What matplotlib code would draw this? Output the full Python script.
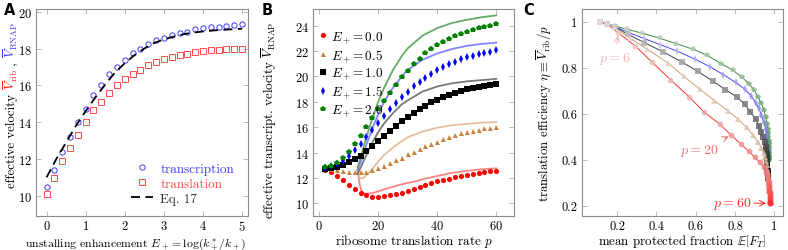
import numpy as np
import matplotlib
matplotlib.use("Agg")
import matplotlib.pyplot as plt

plt.rcParams['font.family'] = 'serif'
plt.rcParams['font.serif'] = ['cmr10']
plt.rcParams['mathtext.fontset'] = 'cm'
plt.rcParams['axes.formatter.use_mathtext'] = True
plt.rcParams['font.size'] = 9

# ---------------- panel A data ----------------
E_vals = [0.0, 0.2, 0.4, 0.6, 0.8, 1.0, 1.2, 1.4, 1.6, 1.8, 2.0, 2.2, 2.4,
          2.6, 2.8, 3.0, 3.2, 3.4, 3.6, 3.8, 4.0, 4.2, 4.4, 4.6, 4.8, 5.0]
v_transcription = [10.5, 11.4, 12.4, 13.2, 14.0, 14.7, 15.5, 16.0, 16.6, 17.0,
                   17.4, 17.75, 17.95, 18.25, 18.45, 18.6, 18.75, 18.85, 18.9,
                   19.05, 19.1, 19.15, 19.15, 19.25, 19.3, 19.35]
v_translation = [10.1, 10.95, 11.9, 12.6, 13.3, 14.0, 14.65, 15.1, 15.6, 16.0,
                 16.35, 16.6, 16.85, 17.1, 17.25, 17.45, 17.55, 17.65, 17.7,
                 17.8, 17.85, 17.9, 17.9, 17.95, 17.97, 18.0]
E_eq = [0.0, 0.25, 0.5, 0.75, 1.0, 1.25, 1.5, 1.75, 2.0, 2.25, 2.5, 2.75, 3.0,
        3.25, 3.5, 3.75, 4.0, 4.25, 4.5, 4.75, 5.0]
v_eq17 = [11.0, 12.0, 12.9, 13.8, 14.6, 15.35, 16.05, 16.7, 17.2, 17.65, 18.0,
          18.3, 18.5, 18.65, 18.78, 18.87, 18.93, 18.98, 19.02, 19.05, 19.08]

# ---------------- panel B data ----------------
p_vals = [2, 4, 6, 8, 10, 12, 14, 16, 18, 20, 22, 24, 26, 28, 30, 32, 34, 36,
          38, 40, 42, 44, 46, 48, 50, 52, 54, 56, 58, 60]
e_labels = ['0.0', '0.5', '1.0', '1.5', '2.0']
vr_e00 = [12.6, 12.5, 12.15, 11.85, 11.45, 11.1, 10.8, 10.62, 10.52, 10.5,
          10.55, 10.62, 10.72, 10.85, 11.0, 11.15, 11.3, 11.45, 11.6, 11.75,
          11.85, 11.95, 12.05, 12.15, 12.25, 12.3, 12.38, 12.45, 12.52, 12.58]
vr_e05 = [12.75, 12.7, 12.6, 12.55, 12.5, 12.45, 12.45, 12.5, 12.6, 12.75,
          12.95, 13.15, 13.4, 13.6, 13.85, 14.05, 14.3, 14.5, 14.7, 14.85,
          15.05, 15.2, 15.35, 15.5, 15.6, 15.7, 15.8, 15.9, 15.95, 16.0]
vr_e10 = [12.7, 12.75, 12.85, 13.05, 13.25, 13.5, 13.75, 14.15, 14.5, 14.9,
          15.3, 15.7, 16.1, 16.45, 16.8, 17.15, 17.45, 17.7, 17.95, 18.15,
          18.35, 18.55, 18.7, 18.85, 18.97, 19.07, 19.15, 19.23, 19.3, 19.4]
vr_e15 = [12.8, 12.9, 13.1, 13.3, 13.7, 14.2, 14.7, 15.2, 15.8, 16.35, 16.9,
          17.4, 17.9, 18.4, 18.8, 19.2, 19.55, 19.9, 20.2, 20.5, 20.75, 20.95,
          21.15, 21.35, 21.5, 21.6, 21.75, 21.85, 21.95, 22.05]
vr_e20 = [12.85, 12.95, 13.2, 13.55, 14.05, 14.65, 15.3, 16.0, 16.7, 17.4,
          18.05, 18.7, 19.35, 19.95, 20.45, 20.95, 21.4, 21.8, 22.15, 22.45,
          22.7, 22.95, 23.15, 23.35, 23.5, 23.65, 23.8, 23.9, 24.0, 24.1]

# theory curves (panel B)
pl_e00 = [13, 13.5, 14, 14.5, 15, 16, 18, 20, 22, 25, 28, 30, 33, 36, 40, 45, 50, 55, 60]
vl_e00 = [12.6, 11.8, 11.2, 10.9, 10.8, 10.75, 10.8, 10.95, 11.1, 11.3, 11.5,
          11.6, 11.75, 11.95, 12.15, 12.4, 12.55, 12.68, 12.75]
pl_e05 = [13, 13.5, 14, 15, 16, 18, 20, 22, 25, 28, 30, 35, 40, 45, 50, 55, 60]
vl_e05 = [12.6, 12.1, 11.95, 12.0, 12.2, 12.7, 13.3, 13.8, 14.4, 14.9, 15.2,
          15.65, 15.95, 16.15, 16.25, 16.35, 16.4]
pl_rest = [13, 14, 15, 16, 18, 20, 22, 25, 28, 30, 35, 40, 45, 50, 55, 60]
vl_e10 = [12.3, 12.8, 13.3, 13.8, 14.8, 15.6, 16.3, 17.1, 17.8, 18.1, 18.8,
          19.2, 19.45, 19.6, 19.7, 19.8]
vl_e15 = [12.6, 13.2, 13.9, 14.6, 15.9, 17.0, 18.0, 19.1, 20.0, 20.5, 21.3,
          21.8, 22.15, 22.4, 22.55, 22.65]
vl_e20 = [12.8, 13.6, 14.4, 15.2, 16.7, 18.0, 19.1, 20.5, 21.6, 22.2, 23.2,
          23.8, 24.2, 24.45, 24.65, 24.8]

# ---------------- panel C data ----------------
fT_e00 = [0.115, 0.149, 0.205, 0.293, 0.375, 0.471, 0.565, 0.641, 0.722, 0.78,
          0.828, 0.87, 0.9, 0.926, 0.946, 0.956, 0.963, 0.967, 0.97, 0.972,
          0.973, 0.974, 0.975, 0.975, 0.976, 0.976, 0.977, 0.977, 0.977, 0.978]
eta_e00 = [0.997, 0.99, 0.952, 0.894, 0.826, 0.748, 0.674, 0.608, 0.554, 0.506,
           0.469, 0.436, 0.41, 0.389, 0.366, 0.348, 0.332, 0.317, 0.303, 0.29,
           0.279, 0.268, 0.258, 0.249, 0.24, 0.232, 0.225, 0.218, 0.213, 0.21]
fT_e05 = [0.115, 0.149, 0.185, 0.268, 0.353, 0.458, 0.539, 0.62, 0.695, 0.763,
          0.816, 0.858, 0.892, 0.916, 0.933, 0.945, 0.952, 0.957, 0.961, 0.963,
          0.965, 0.966, 0.967, 0.968, 0.969, 0.97, 0.97, 0.971, 0.971, 0.972]
eta_e05 = [0.997, 0.99, 0.975, 0.927, 0.88, 0.821, 0.762, 0.707, 0.657, 0.613,
           0.575, 0.54, 0.506, 0.476, 0.452, 0.43, 0.41, 0.392, 0.376, 0.361,
           0.347, 0.335, 0.323, 0.312, 0.302, 0.293, 0.284, 0.276, 0.269, 0.262]
fT_e10 = [0.115, 0.149, 0.19, 0.255, 0.338, 0.435, 0.531, 0.61, 0.689, 0.751,
          0.811, 0.848, 0.878, 0.904, 0.921, 0.934, 0.943, 0.95, 0.955, 0.958,
          0.96, 0.961, 0.962, 0.963, 0.964, 0.964, 0.965, 0.965, 0.966, 0.966]
eta_e10 = [0.997, 0.99, 0.975, 0.945, 0.909, 0.868, 0.824, 0.784, 0.74, 0.704,
           0.672, 0.641, 0.608, 0.575, 0.546, 0.52, 0.497, 0.476, 0.457, 0.44,
           0.424, 0.41, 0.396, 0.383, 0.371, 0.36, 0.35, 0.34, 0.331, 0.322]
fT_e15 = [0.115, 0.149, 0.19, 0.251, 0.336, 0.42, 0.505, 0.598, 0.67, 0.74,
          0.802, 0.848, 0.882, 0.904, 0.921, 0.934, 0.946, 0.955, 0.96, 0.963,
          0.964, 0.965, 0.966, 0.967, 0.967, 0.968, 0.968, 0.968, 0.969, 0.969]
eta_e15 = [0.997, 0.99, 0.978, 0.955, 0.927, 0.9, 0.872, 0.836, 0.805, 0.77,
           0.736, 0.707, 0.678, 0.648, 0.623, 0.594, 0.564, 0.535, 0.51, 0.488,
           0.468, 0.452, 0.437, 0.423, 0.41, 0.4, 0.39, 0.382, 0.374, 0.367]
fT_e20 = [0.115, 0.149, 0.183, 0.25, 0.327, 0.42, 0.497, 0.587, 0.658, 0.729,
          0.788, 0.833, 0.87, 0.896, 0.916, 0.933, 0.946, 0.955, 0.963, 0.966,
          0.968, 0.969, 0.97, 0.971, 0.972, 0.972, 0.973, 0.973, 0.974, 0.974]
eta_e20 = [0.997, 0.99, 0.982, 0.967, 0.95, 0.927, 0.905, 0.88, 0.853, 0.818,
           0.789, 0.76, 0.73, 0.704, 0.672, 0.645, 0.616, 0.586, 0.557, 0.535,
           0.516, 0.498, 0.482, 0.467, 0.453, 0.44, 0.428, 0.418, 0.408, 0.398]

# ---------------- styling ----------------
dot_colors = ['#ff0000', '#c8823c', '#000000', '#0000ff', '#008000']
line_colors_B = ['#ff7070', '#dcb48c', '#606060', '#7070ff', '#4a9a4a']
line_colors_C = ['#ff3030', '#d0a070', '#404040', '#4848ff', '#3a8a3a']
markers = ['o', '^', 's', 'd', 'p']

fig = plt.figure(figsize=(7.88, 2.51), dpi=100)
W, H = 788.0, 251.0
renderer = fig.canvas.get_renderer()


def make_ax(left, right, top=10, bottom=217):
    return fig.add_axes([left / W, 1 - bottom / H, (right - left) / W, (bottom - top) / H])


def style(ax):
    for s in ax.spines.values():
        s.set_color('#8c8c8c')
        s.set_linewidth(0.8)
    ax.tick_params(direction='in', length=3.5, width=0.6, color='#b0b0b0',
                   top=True, right=True, labelsize=9)
    ax.tick_params(axis='x', pad=2.5)
    ax.tick_params(axis='y', pad=3)


def place_xlabel(ax, text, size=9.3, xc=0.5, base=245.5):
    # baseline of the x label sits at about 245 px from the top
    lab = ax.set_xlabel(text, fontsize=size)
    lab.set_va('baseline')
    ax.xaxis.set_label_coords(xc, (217 - base) / 207.0)


axA = make_ax(36, 248)
axB = make_ax(313.3, 514)
axC = make_ax(581.7, 783.3)

# ---------- A ----------
axA.plot(E_vals, v_transcription, 'o', mfc='none', mec='#3c3cff', ms=3.8, mew=0.7,
         label='transcription')
axA.plot(E_vals, v_translation, 's', mfc='none', mec='#ff4c4c', ms=3.8, mew=0.7,
         label='translation')
axA.plot(E_eq, v_eq17, '--', color='black', lw=1.3, dashes=(5, 3), label='Eq. 17')
axA.set_xlim(-0.27, 5.15)
axA.set_ylim(8.9, 20.15)
axA.set_xticks([0, 1, 2, 3, 4, 5])
axA.set_yticks([10, 12, 14, 16, 18, 20])
style(axA)
place_xlabel(axA, r'unstalling enhancement $E_+ = \log(k_+^*/k_+)$', size=8.5, xc=0.47, base=246)
legA = axA.legend(loc='lower right', frameon=False, fontsize=9.5, handlelength=1.6,
                  handletextpad=0.6, labelspacing=0.2, borderaxespad=0.0,
                  bbox_to_anchor=(0.96, 0.03))
for t, c in zip(legA.get_texts(), ['#3c3cff', '#ff4c4c', '#333333']):
    t.set_color(c)
legA.legend_handles[1].set_markeredgecolor('#ff4c4c')
legA.legend_handles[1].set_markerfacecolor('none')
legA.legend_handles[1].set_markeredgewidth(0.8)

# ---------- B ----------
vr_all = [vr_e00, vr_e05, vr_e10, vr_e15, vr_e20]
pl_all = [pl_e00, pl_e05, pl_rest, pl_rest, pl_rest]
vl_all = [vl_e00, vl_e05, vl_e10, vl_e15, vl_e20]
for k in range(5):
    axB.plot(pl_all[k], vl_all[k], '-', color=line_colors_B[k], lw=1.3, alpha=0.85)
for k in range(5):
    ms = {'o': 3.7, '^': 3.6, 's': 3.9, 'd': 4.0, 'p': 4.1}[markers[k]]
    axB.plot(p_vals, vr_all[k], markers[k], color=dot_colors[k], ms=ms, mew=0,
             label=r'$E_+\!=%s$' % e_labels[k])
axB.set_xlim(-2, 66)
axB.set_ylim(9, 25.3)
axB.set_xticks([0, 20, 40, 60])
axB.set_yticks([10, 12, 14, 16, 18, 20, 22, 24])
style(axB)
place_xlabel(axB, r'ribosome translation rate $p$', size=9.5)
axB.set_ylabel(r'effective transcript. velocity $\overline{V}_{\rm RNAP}$', fontsize=9.3)
axB.yaxis.set_label_coords(-0.17, 0.47)
axB.legend(loc='upper left', frameon=False, fontsize=9.5, handlelength=0.6,
           handletextpad=0.35, labelspacing=0.15, borderaxespad=0.0,
           bbox_to_anchor=(0.0, 0.93))

# ---------- C ----------
fT_all = [fT_e00, fT_e05, fT_e10, fT_e15, fT_e20]
eta_all = [eta_e00, eta_e05, eta_e10, eta_e15, eta_e20]
for k in range(4, -1, -1):
    axC.plot(fT_all[k], eta_all[k], '-', color=line_colors_C[k], lw=0.7, zorder=2)
for k in range(4, -1, -1):
    base = np.array(matplotlib.colors.to_rgb(line_colors_C[k] if k != 2 else '#000000'))
    light = np.array([0.88, 0.88, 0.88])
    for p, x, y in zip(p_vals, fT_all[k], eta_all[k]):
        t = min(1.0, (p / 60.0) ** 0.9)
        col = tuple((1 - t) * light + t * base)
        ms = {'o': 4.2, '^': 4.0, 's': 4.2, 'd': 4.0, 'p': 4.4}[markers[k]]
        axC.plot([x], [y], markers[k], color=col, ms=ms, mew=0, alpha=0.85, zorder=3)
axC.set_xlim(0.02, 1.045)
axC.set_ylim(0.155, 1.055)
axC.set_xticks([0.2, 0.4, 0.6, 0.8, 1.0])
axC.set_yticks([0.2, 0.4, 0.6, 0.8, 1.0])
axC.set_xticklabels(['0.2', '0.4', '0.6', '0.8', '1'])
axC.set_yticklabels(['0.2', '0.4', '0.6', '0.8', '1'])
style(axC)
place_xlabel(axC, r'mean protected fraction $\mathbb{E}\left[F_T\right]$')
axC.set_ylabel(r'translation efficiency $\eta \equiv \overline{V}_{\rm rib}/p$', fontsize=9.3)
axC.yaxis.set_label_coords(-0.14, 0.5)

axC.annotate(r'$p = 6$', xy=(fT_e00[2], eta_e00[2]), xytext=(0.19, 0.84),
             color='#f4b4b4', fontsize=10, ha='center', va='center',
             arrowprops=dict(arrowstyle='->', color='#f4b4b4', lw=0.7, shrinkA=3, shrinkB=2))
axC.annotate(r'$p = 20$', xy=(fT_e00[9], eta_e00[9]), xytext=(0.615, 0.44),
             color='#f07070', fontsize=10, ha='center', va='center',
             arrowprops=dict(arrowstyle='->', color='#f07070', lw=0.7, shrinkA=3, shrinkB=2))
axC.annotate(r'$p = 60$', xy=(fT_e00[29], eta_e00[29]), xytext=(0.785, 0.212),
             color='#ff2a2a', fontsize=10, ha='center', va='center',
             arrowprops=dict(arrowstyle='->', color='#ff2a2a', lw=0.7, shrinkA=12, shrinkB=3))

# panel letters
for lbl, xp in [('A', 4), ('B', 262), ('C', 523)]:
    fig.text(xp / W, 1 - 3 / H, lbl, fontsize=10.5, fontweight='bold',
             family='DejaVu Sans', ha='left', va='top')

# multi-coloured y label for panel A
parts = [('effective velocity', 'black'), (r'$\overline{V}_{\rm rib}$', '#ff2020'),
         (',', 'black'), (r'$\overline{V}_{\rm RNAP}$', '#3c3cff')]
gaps = [4, 4, 4, 0]
objs = []
lengths = []
for s, c in parts:
    t = fig.text(0, 0, s, color=c, rotation=90, rotation_mode='anchor',
                 ha='left', va='baseline', fontsize=9.3)
    bb = t.get_window_extent(renderer)
    objs.append(t)
    lengths.append(bb.height)
total = sum(lengths) + sum(gaps[:-1])
y0 = (251 - 105) - total / 2.0
x_base = 15.5
for t, L, g in zip(objs, lengths, gaps):
    t.set_position((x_base / W, y0 / H))
    y0 += L + g

fig.savefig('out.png', dpi=100)
